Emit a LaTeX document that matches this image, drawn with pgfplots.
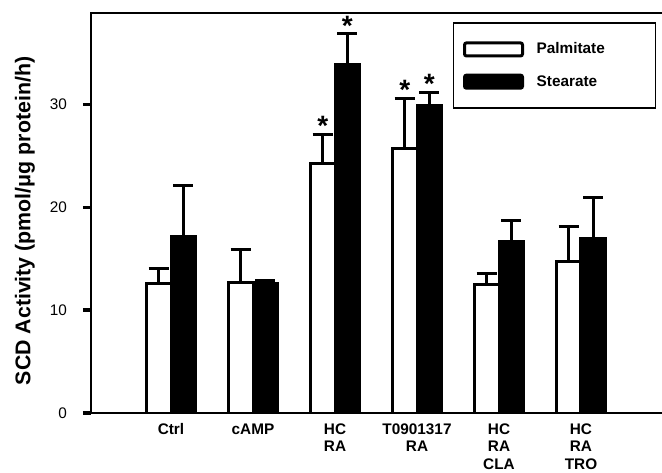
\documentclass[border=0pt]{standalone}
\usepackage{fontspec}
\setmainfont{Liberation Sans}
\usepackage{pgfplots}
\pgfplotsset{compat=1.18}

\newcommand\fs{\fontsize{11.5}{13}\selectfont}

\begin{document}
\begin{tikzpicture}
\begin{axis}[
  name=ax,
  scale only axis,
  width=428.25pt, height=300pt,
  xmin=-0.976, xmax=5.988,
  ymin=0, ymax=38.9,
  axis x line=box, axis y line=left,
  axis line style={-, line width=2.1pt, line cap=rect},
  xtick={0,...,5},
  xticklabels={Ctrl, cAMP, {HC\\RA}, {T0901317\\RA}, {HC\\RA\\CLA}, {HC\\RA\\TRO}},
  xticklabel style={align=center, font=\fs\bfseries, yshift=1.5pt},
  x tick style={draw=none},
  ytick={0,10,20,30},
  tick align=outside,
  major tick length=6pt,
  y tick style={line width=2.6pt, black},
  yticklabel style={font=\fs, xshift=-8.5pt},
  /pgf/number format/assume math mode=true,
  ylabel={SCD Activity (pmol/μg protein/h)},
  ylabel style={font=\fontsize{16}{18}\selectfont\bfseries, at={(axis description cs:-0.090,0.48)}, anchor=south},
  legend cell align=left,
  legend style={at={(0.9895,0.977)}, anchor=north east, draw=black, line width=1pt,
    font=\fs\bfseries, inner xsep=7pt, inner ysep=13pt, row sep=10.5pt,
    /tikz/every odd column/.append style={column sep=7.5pt}},
  legend image code/.code={\draw[#1, line width=2.25pt, rounded corners=1.5pt] (0pt,-4.9pt) rectangle (43.5pt,4.9pt);},
  error bars/error bar style={line width=2.25pt, black},
  error bars/error mark options={line width=2.25pt, mark size=7.5pt, rotate=90},
]

% Palmitate (left bar of each group)
\addplot[ybar, bar width=0.3, bar shift=0, draw=black, fill=white, line width=2.25pt,
  error bars/.cd, y dir=plus, y explicit]
coordinates {
  (-0.15,12.6)  +- (0,1.5)
  (0.85,12.7)   +- (0,3.2)
  (1.85,24.3)   +- (0,2.8)
  (2.85,25.7)   +- (0,4.9)
  (3.85,12.45)  +- (0,1.15)
  (4.85,14.7)   +- (0,3.4)
};
\addlegendentry{\makebox[80pt][l]{Palmitate}}

% Stearate (right bar of each group)
\addplot[ybar, bar width=0.3, bar shift=0, draw=black, fill=black, line width=2.25pt,
  error bars/.cd, y dir=plus, y explicit]
coordinates {
  (0.15,17.2)  +- (0,4.9)
  (1.15,12.55) +- (0,0.3)
  (2.15,33.9)  +- (0,3.0)
  (3.15,29.9)  +- (0,1.3)
  (4.15,16.7)  +- (0,2.0)
  (5.15,17.0)  +- (0,4.0)
};
\addlegendentry{\makebox[80pt][l]{Stearate}\rule[-9pt]{0pt}{9pt}\vrule depth 9pt width 0pt}

% significance stars
\addplot[draw=none, nodes near coords={*},
  every node near coord/.append style={anchor=base, font=\fontsize{21}{21}\selectfont\bfseries, yshift=-1.2pt}]
coordinates {(1.85,27.1) (2.15,36.9) (2.85,30.6) (3.15,31.2)};

\end{axis}
\pgfresetboundingbox
\path[use as bounding box] ([xshift=-68.25pt,yshift=-44.25pt]ax.south west) rectangle ([yshift=9.75pt]ax.north east);
\end{tikzpicture}
\end{document}
